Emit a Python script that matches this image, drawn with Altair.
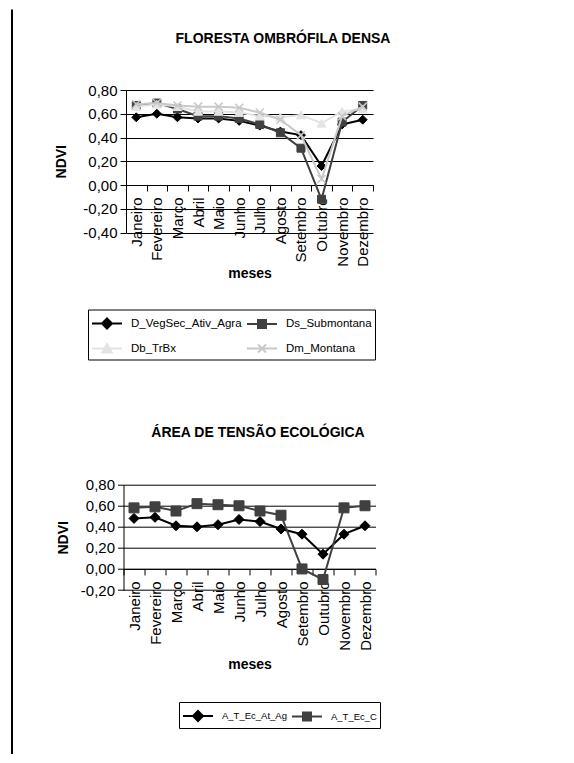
import altair as alt
import pandas as pd

# ---------------- data ----------------
meses = ["Janeiro", "Fevereiro", "Março", "Abril", "Maio", "Junho", "Julho",
         "Agosto", "Setembro", "Outubro", "Novembro", "Dezembro"]

series1 = ["D_VegSec_Ativ_Agra", "Ds_Submontana", "Db_TrBx", "Dm_Montana"]
d_vegsec = [0.57, 0.60, 0.57, 0.56, 0.56, 0.54, 0.50, 0.45, 0.42, 0.16, 0.51, 0.55]
ds_submontana = [0.67, 0.69, 0.64, 0.58, 0.58, 0.56, 0.51, 0.44, 0.31, -0.12, 0.53, 0.67]
db_trbx = [0.66, 0.68, 0.66, 0.62, 0.62, 0.61, 0.58, 0.57, 0.59, 0.52, 0.62, 0.64]
dm_montana = [0.68, 0.69, 0.67, 0.66, 0.66, 0.65, 0.61, 0.55, 0.42, 0.05, 0.58, 0.66]

series2 = ["A_T_Ec_At_Ag", "A_T_Ec_C"]
a_t_ec_at_ag = [0.48, 0.49, 0.41, 0.40, 0.42, 0.47, 0.45, 0.38, 0.33, 0.14, 0.33, 0.41]
a_t_ec_c = [0.58, 0.59, 0.55, 0.62, 0.61, 0.60, 0.55, 0.51, 0.00, -0.10, 0.58, 0.60]

ticks1 = [-0.4, -0.2, 0.0, 0.2, 0.4, 0.6, 0.8]
ticks2 = [-0.2, 0.0, 0.2, 0.4, 0.6, 0.8]

# ---------------- style ----------------
FONT = "Liberation Sans"
XPATH = "M-1,-1L1,1M-1,1L1,-1"
LEG_PATHS = {
    "diamond": "M-1.5,0H1.5M0,-0.5L0.5,0L0,0.5L-0.5,0Z",
    "square": "M-1.5,0H1.5M-0.4,-0.4H0.4V0.4H-0.4Z",
    "triangle-up": "M-1.5,0H1.5M0,-0.45L0.48,0.4H-0.48Z",
    "x": "M-1.5,0H1.5M-0.4,-0.4L0.4,0.4M-0.4,0.4L0.4,-0.4",
}
YLABEL = "(datum.value < 0 ? '-' : '') + replace(format(abs(datum.value), '.2f'), '.', ',')"


def long_df(names, values):
    rows = []
    for n, vals in zip(names, values):
        for m, v in zip(meses, vals):
            rows.append({"mes": m, "serie": n, "ndvi": v})
    return pd.DataFrame(rows)


def panel(title, title_dx, title_offset, names, values, colors, marks, ticks,
          W, H, lx, ly, cols, leg_font, ytitle_pad, xtitle_pad, msize):
    df = long_df(names, values)
    ymin, ymax = ticks[0], ticks[-1]
    x_off = -H * (0 - ymin) / (ymax - ymin)
    X = alt.X(
        "mes:N", sort=meses, bandPosition=0.5,
        scale=alt.Scale(type="band", domain=meses, paddingInner=0, paddingOuter=0),
        axis=alt.Axis(
            title="meses", titleFont=FONT, titleFontSize=14, titleFontWeight="bold",
            titleColor="black", titlePadding=xtitle_pad,
            labelAngle=-90, labelFont=FONT, labelFontSize=15, labelColor="black",
            labelPadding=6, labelOverlap=False,
            tickBand="extent", tickSize=6, tickColor="black",
            domainColor="black", domainWidth=1, grid=False, offset=x_off,
        ),
    )
    Y = alt.Y(
        "ndvi:Q",
        scale=alt.Scale(domain=[ymin, ymax], nice=False, zero=False),
        axis=alt.Axis(
            values=ticks, labelExpr=YLABEL, title="NDVI",
            titleFont=FONT, titleFontSize=14, titleFontWeight="bold", titleColor="black",
            titlePadding=ytitle_pad,
            labelFont=FONT, labelFontSize=15, labelColor="black", labelPadding=3,
            tickSize=6, tickColor="black", domainColor="black",
            grid=True, gridColor="black", gridWidth=1,
        ),
    )
    layers = []
    for n, c, mk, sz in zip(names, colors, marks, msize):
        base = alt.Chart(df).transform_filter(alt.datum.serie == n)
        layers.append(base.mark_line(color=c, strokeWidth=2).encode(x=X, y=Y))
        if mk == "x":
            pt = base.mark_point(shape=XPATH, filled=False, color=c, strokeWidth=1.5,
                                 size=sz, opacity=1)
        else:
            pt = base.mark_point(shape=mk, filled=True, color=c, stroke=c, strokeWidth=1,
                                 size=sz, opacity=1)
        layers.append(pt.encode(x=X, y=Y))

    leg = alt.Legend(
        title=None, orient="none", legendX=lx, legendY=ly, direction="horizontal",
        columns=cols, strokeColor="black", padding=3, rowPadding=5, columnPadding=1,
        symbolSize=400, symbolStrokeWidth=2, symbolOpacity=1, symbolOffset=5,
        labelFont=FONT, labelFontSize=leg_font, labelColor="black", labelOffset=13,
    )
    paths = [LEG_PATHS[m] for m in marks]
    legend_layer = alt.Chart(df).transform_filter("false").mark_point(
        filled=False, opacity=1, strokeWidth=2
    ).encode(
        shape=alt.Shape("serie:N", scale=alt.Scale(domain=names, range=paths), legend=leg),
        fill=alt.Fill("serie:N", scale=alt.Scale(domain=names, range=colors), legend=leg),
        stroke=alt.Stroke("serie:N", scale=alt.Scale(domain=names, range=colors), legend=leg),
    )
    layers.append(legend_layer)
    return alt.layer(*layers).properties(
        width=W, height=H,
        title=alt.TitleParams(
            text=title, font=FONT, fontSize=14, fontWeight="bold", color="black",
            anchor="middle", frame="group", dx=title_dx, offset=title_offset,
        ),
    )


c1 = panel("FLORESTA OMBRÓFILA DENSA", 33.5, 37, series1,
           [d_vegsec, ds_submontana, db_trbx, dm_montana],
           ["#000000", "#404040", "#e3e3e3", "#c8c8c8"],
           ["diamond", "square", "triangle-up", "x"], ticks1,
           247, 142.5, -38, 219.5, 2, 11.5, 14.5, 0, [80, 64, 80, 64])

c2 = panel("ÁREA DE TENSÃO ECOLÓGICA", 8.5, 38, series2,
           [a_t_ec_at_ag, a_t_ec_c],
           ["#000000", "#404040"],
           ["diamond", "square"], ticks2,
           252, 105.3, 55.5, 217.3, 2, 9.5, 10, 7, [100, 100])

border = alt.Chart(pd.DataFrame({"k": [0]})).mark_rule(
    color="black", strokeWidth=2
).encode(x=alt.value(0), y=alt.value(-80.5), y2=alt.value(664)).properties(width=1, height=1)

indep = dict(shape="independent", fill="independent", stroke="independent")
charts = alt.vconcat(c1, c2, spacing=251.7, bounds="flush", center=True) \
    .resolve_scale(**indep).resolve_legend(**indep)

chart = alt.hconcat(border, charts, spacing=110.5, bounds="flush") \
    .resolve_scale(**indep).resolve_legend(**indep) \
    .properties(
        padding={"left": 3, "top": 0, "right": 0, "bottom": 0},
        background="white",
    ).configure_view(stroke=None)

chart.save("out.html", embed_options={"renderer": "svg", "actions": False})
